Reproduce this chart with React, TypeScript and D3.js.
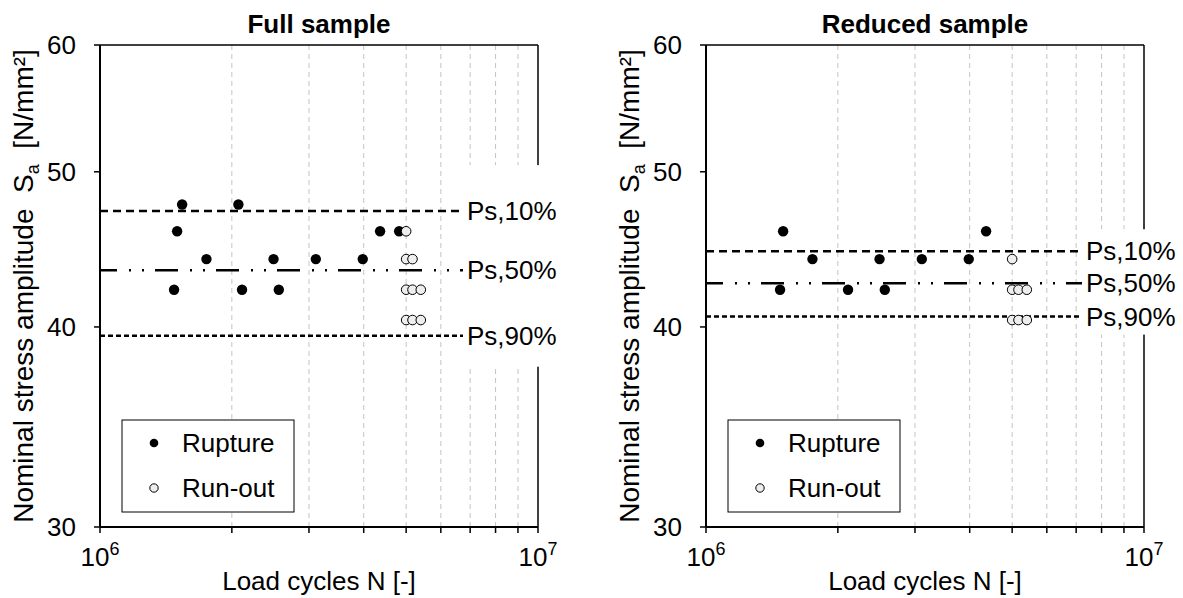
import React from "react";
import * as d3 from "d3";

// ---------- data ----------
const panelTitles = ["Full sample", "Reduced sample"];
const yTicks = [30, 40, 50, 60];
const xTickExponents = [6, 7];
const psLabels = ["Ps,10%", "Ps,50%", "Ps,90%"];
const legendLabels = ["Rupture", "Run-out"];

const fullRuptureN = [1.54e6, 2.07e6, 1.5e6, 4.36e6, 4.82e6, 1.75e6, 2.49e6, 3.11e6, 3.98e6, 1.476e6, 2.11e6, 2.56e6];
const fullRuptureS = [47.7, 47.7, 45.9, 45.9, 45.9, 44.1, 44.1, 44.1, 44.1, 42.2, 42.2, 42.2];
const fullRunoutN = [5.0e6, 5.0e6, 5.17e6, 5.0e6, 5.17e6, 5.4e6, 5.0e6, 5.17e6, 5.4e6];
const fullRunoutS = [45.9, 44.1, 44.1, 42.2, 42.2, 42.2, 40.4, 40.4, 40.4];
const fullPs = [47.25, 43.4, 39.5];

const reducedRuptureN = [1.5e6, 4.36e6, 1.75e6, 2.49e6, 3.11e6, 3.98e6, 1.476e6, 2.11e6, 2.56e6];
const reducedRuptureS = [45.9, 45.9, 44.1, 44.1, 44.1, 44.1, 42.2, 42.2, 42.2];
const reducedRunoutN = [5.0e6, 5.0e6, 5.17e6, 5.4e6, 5.0e6, 5.17e6, 5.4e6];
const reducedRunoutS = [44.1, 42.2, 42.2, 42.2, 40.4, 40.4, 40.4];
const reducedPs = [44.6, 42.6, 40.6];

// ---------- layout ----------
const FONT = "'Liberation Sans', Arial, sans-serif";
const TOP = 45;
const BOTTOM = 527;
const PW = 438;

const panels = [
  {
    title: panelTitles[0],
    x0: 100,
    rupN: fullRuptureN, rupS: fullRuptureS,
    runN: fullRunoutN, runS: fullRunoutS,
    ps: fullPs,
    lineEnd: 463, labelX: 467,
    boxTop: 46, boxBottom: 31,
  },
  {
    title: panelTitles[1],
    x0: 706,
    rupN: reducedRuptureN, rupS: reducedRuptureS,
    runN: reducedRunoutN, runS: reducedRunoutS,
    ps: reducedPs,
    lineEnd: 1082, labelX: 1086,
    boxTop: 22, boxBottom: 18,
  },
];

const psStyles = [
  { dash: "8 5", w: 2.5, offset: 0 },
  { dash: "23 12 2 11 2 11", w: 2.5, offset: 6 },
  { dash: "5 3", w: 2.5, offset: 0 },
];

function Panel({ p }: { p: (typeof panels)[number] }) {
  const x = d3.scaleLog().domain([1e6, 1e7]).range([p.x0, p.x0 + PW]);
  const y = d3.scaleLog().domain([30, 60]).range([BOTTOM, TOP]);
  const minor = d3.range(2, 10).map((k) => k * 1e6);
  const allTicks = [1e6, ...minor, 1e7];
  const x1 = p.x0 + PW;
  const cx = p.x0 + PW / 2;
  const ly = (TOP + BOTTOM) / 2;

  return (
    <g>
      {/* grid */}
      {minor.map((v) => (
        <line key={v} x1={x(v)} x2={x(v)} y1={TOP} y2={BOTTOM} stroke="#c4c4c4" strokeWidth={1} strokeDasharray="5 4" />
      ))}
      {/* frame */}
      <line x1={p.x0} x2={x1} y1={TOP} y2={TOP} stroke="#000" strokeWidth={1.5} />
      <line x1={x1} x2={x1} y1={TOP} y2={BOTTOM} stroke="#000" strokeWidth={1.5} />
      <line x1={p.x0} x2={p.x0} y1={TOP} y2={BOTTOM} stroke="#000" strokeWidth={2} />
      <line x1={p.x0} x2={x1} y1={BOTTOM} y2={BOTTOM} stroke="#000" strokeWidth={2} />
      {/* y ticks */}
      {yTicks.map((t) => (
        <g key={t}>
          <line x1={p.x0 - 6} x2={p.x0} y1={y(t)} y2={y(t)} stroke="#000" strokeWidth={1.5} />
          <text x={p.x0 - 24} y={y(t)} dy="0.35em" textAnchor="end" fontSize={26} fontFamily={FONT}>{t}</text>
        </g>
      ))}
      {/* x ticks */}
      {allTicks.map((t) => (
        <line key={t} x1={x(t)} x2={x(t)} y1={BOTTOM} y2={BOTTOM + 6} stroke="#000" strokeWidth={1.5} />
      ))}
      {xTickExponents.map((e) => (
        <text key={e} x={x(Math.pow(10, e))} y={566} textAnchor="middle" fontSize={26} fontFamily={FONT}>
          10<tspan fontSize={18} dy={-11}>{e}</tspan>
        </text>
      ))}
      {/* ps lines */}
      {p.ps.map((v, i) => (
        <line key={i} x1={p.x0} x2={p.lineEnd} y1={y(v)} y2={y(v)} stroke="#000" strokeWidth={psStyles[i].w}
          strokeDasharray={psStyles[i].dash} strokeDashoffset={psStyles[i].offset} />
      ))}
      {/* label background */}
      <rect x={p.lineEnd + 1} y={y(p.ps[0]) - p.boxTop} width={x1 - p.lineEnd + 30}
        height={y(p.ps[2]) + p.boxBottom - (y(p.ps[0]) - p.boxTop)} fill="#fff" />
      {p.ps.map((v, i) => (
        <text key={i} x={p.labelX} y={y(v)} dy="0.35em" fontSize={26} fontFamily={FONT}>{psLabels[i]}</text>
      ))}
      {/* points */}
      {p.rupN.map((n, i) => (
        <circle key={"r" + i} cx={x(n)} cy={y(p.rupS[i])} r={5.2} fill="#000" />
      ))}
      {p.runN.map((n, i) => (
        <circle key={"o" + i} cx={x(n)} cy={y(p.runS[i])} r={4.8} fill="#eee" stroke="#000" strokeWidth={1} />
      ))}
      {/* legend */}
      <rect x={p.x0 + 22} y={420} width={172} height={92} fill="#fff" stroke="#000" strokeWidth={1} />
      <circle cx={p.x0 + 54} cy={443} r={4.3} fill="#000" />
      <circle cx={p.x0 + 54} cy={488} r={4.2} fill="#eee" stroke="#000" strokeWidth={1} />
      <text x={p.x0 + 82} y={443} dy="0.35em" fontSize={26} fontFamily={FONT}>{legendLabels[0]}</text>
      <text x={p.x0 + 82} y={488} dy="0.35em" fontSize={26} fontFamily={FONT}>{legendLabels[1]}</text>
      {/* titles */}
      <text x={cx} y={33} textAnchor="middle" fontSize={26} fontWeight="bold" fontFamily={FONT}>{p.title}</text>
      <text x={cx} y={590} textAnchor="middle" fontSize={26} fontFamily={FONT}>Load cycles N [-]</text>
      <text transform={`translate(${p.x0 - 67},${ly}) rotate(-90)`} textAnchor="middle" fontSize={28} fontFamily={FONT}>
        Nominal stress amplitude{"\u00a0\u00a0"}S<tspan fontSize={18} dy={6}>a</tspan>
        <tspan dy={-6}>{"\u00a0\u00a0"}[N/mm²]</tspan>
      </text>
    </g>
  );
}

export default function App() {
  return (
    <svg width={1183} height={598} style={{ position: "absolute", left: 0, top: 0, background: "#fff" }}>
      <rect width={1183} height={598} fill="#fff" />
      {panels.map((p, i) => (
        <Panel key={i} p={p} />
      ))}
    </svg>
  );
}
